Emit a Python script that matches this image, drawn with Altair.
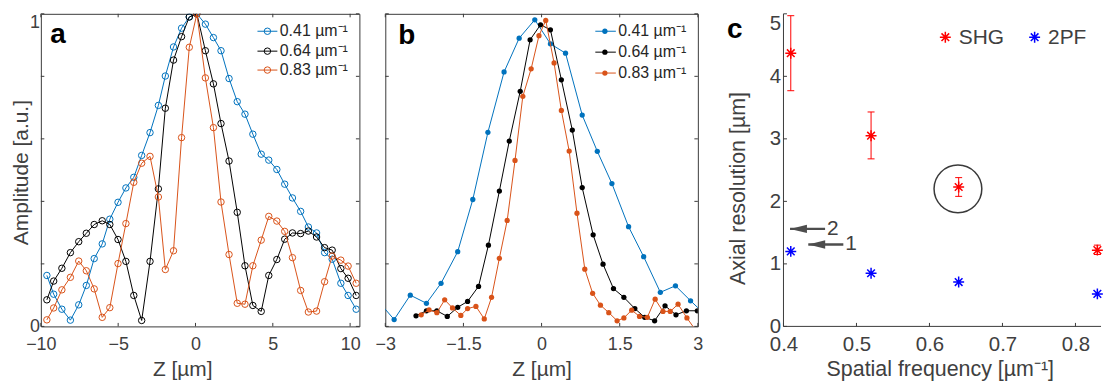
import altair as alt
import pandas as pd

FONT = "Liberation Sans"
TXT = "#404040"
FRAME = "#3a3a3a"
C041, C064, C083 = "#0072BD", "#000000", "#D95319"
RED, BLUE = "#FF0000", "#0000FF"
ARROWC = "#4d4d4d"

# ---------------- data: panel a (scanned amplitude) ----------------
z_a = [-9.61, -9.17, -8.64, -8.09, -7.55, -7.06, -6.55, -6.03, -5.54, -5.01,
       -4.50, -3.99, -3.48, -2.94, -2.40, -1.95, -1.42, -0.90, -0.40, 0.09,
       0.64, 1.16, 1.65, 2.17, 2.70, 3.20, 3.71, 4.25, 4.74, 5.26,
       5.77, 6.27, 6.80, 7.30, 7.83, 8.35, 8.84, 9.40, 9.87, 10.39]
amp_a_041 = [0.163, 0.103, 0.055, 0.020, 0.069, 0.131, 0.217, 0.264, 0.343, 0.397,
             0.443, 0.477, 0.547, 0.620, 0.707, 0.801, 0.894, 0.954, 0.990, 1.000,
             0.967, 0.924, 0.882, 0.793, 0.719, 0.679, 0.615, 0.551, 0.532, 0.502,
             0.455, 0.411, 0.368, 0.318, 0.299, 0.236, 0.215, 0.138, 0.099, 0.055]
amp_a_064 = [0.085, 0.145, 0.186, 0.236, 0.271, 0.298, 0.326, 0.338, 0.326, 0.278,
             0.208, 0.099, 0.019, 0.208, 0.440, 0.698, 0.852, 0.927, 0.990, 1.000,
             0.882, 0.776, 0.649, 0.529, 0.365, 0.194, 0.067, 0.048, 0.163, 0.214,
             0.279, 0.299, 0.297, 0.305, 0.286, 0.252, 0.244, 0.185, 0.154, 0.099]
amp_a_083 = [0.021, 0.059, 0.117, 0.157, 0.209, 0.178, 0.120, 0.029, 0.060, 0.201,
             0.329, 0.461, 0.522, 0.544, 0.414, 0.182, 0.242, 0.604, 0.893, 1.000,
             0.795, 0.636, 0.398, 0.230, 0.074, 0.071, 0.194, 0.276, 0.352, 0.337,
             0.304, 0.220, 0.115, 0.046, 0.049, 0.143, 0.225, 0.212, 0.193, 0.138]

# ---------------- data: panel b ----------------
z_b_041 = [-3.11, -2.83, -2.52, -2.21, -1.93, -1.61, -1.32, -1.03, -0.72, -0.43, -0.13,
           0.17, 0.46, 0.78, 1.07, 1.35, 1.67, 1.96, 2.28, 2.57, 2.86, 3.15]
amp_b_041 = [0.076, 0.022, 0.100, 0.074, 0.138, 0.239, 0.406, 0.621, 0.814, 0.922, 0.981,
             0.904, 0.874, 0.676, 0.560, 0.457, 0.319, 0.223, 0.109, 0.130, 0.082, 0.036]
z_b_064 = [-2.41, -2.21, -2.01, -1.81, -1.61, -1.42, -1.21, -1.02, -0.81, -0.62,
           -0.41, -0.22, -0.02, 0.17, 0.38, 0.59, 0.78, 0.99, 1.18, 1.38,
           1.58, 1.79, 1.98, 2.17, 2.37, 2.58, 2.78, 2.99]
amp_b_064 = [0.034, 0.050, 0.050, 0.032, 0.061, 0.080, 0.128, 0.260, 0.433, 0.593,
             0.752, 0.917, 0.965, 0.949, 0.789, 0.628, 0.444, 0.293, 0.199, 0.121,
             0.093, 0.057, 0.029, 0.018, 0.066, 0.037, 0.050, 0.050]
z_b_083 = [-2.31, -2.16, -2.01, -1.86, -1.71, -1.55, -1.42, -1.26, -1.10, -0.96,
           -0.81, -0.66, -0.51, -0.36, -0.20, -0.05, 0.08, 0.24, 0.38, 0.53,
           0.68, 0.83, 0.98, 1.13, 1.29, 1.45, 1.58, 1.73, 1.88, 2.03,
           2.18, 2.33, 2.47, 2.62, 2.79, 2.97]
amp_b_083 = [0.037, 0.053, 0.044, 0.085, 0.059, 0.035, 0.057, 0.064, 0.024, 0.093,
             0.218, 0.339, 0.531, 0.736, 0.824, 0.930, 0.979, 0.843, 0.691, 0.561,
             0.362, 0.183, 0.106, 0.068, 0.044, 0.018, 0.027, 0.052, 0.032, 0.029,
             0.087, 0.048, 0.048, 0.071, 0.027, -0.015]

# ---------------- data: panel c ----------------
freq = [0.41, 0.52, 0.64, 0.83]
res_shg = [4.37, 3.05, 2.23, 1.22]
res_shg_lo = [3.77, 2.68, 2.08, 1.15]
res_shg_hi = [4.97, 3.43, 2.38, 1.30]
res_2pf = [1.20, 0.85, 0.71, 0.52]
circled_f, circled_r = [0.639], [2.20]
arrow_y = [1.56, 1.31]
arrow_tip = [0.409, 0.434]
arrow_tail = [0.457, 0.482]
arrow_text = ["2", "1"]

series_labels = ["0.41 µm⁻¹", "0.64 µm⁻¹", "0.83 µm⁻¹"]
series_colors = [C041, C064, C083]

ticks_a_x = [-10, -5, 0, 5, 10]
ticks_ab_y = [0, 0.2, 0.4, 0.6, 0.8, 1.0]
ticks_b_x = [-3, -1.5, 0, 1.5, 3]
ticks_c_x = [0.4, 0.5, 0.6, 0.7, 0.8]
ticks_c_y = [0, 1, 2, 3, 4, 5]

WA, WB, WC, H = 320, 314, 319, 314
TL = 3.5
ASTER = "M-1,0L1,0M0,-1L0,1M-0.7,-0.7L0.7,0.7M-0.7,0.7L0.7,-0.7"
HEAD = "M0,0L2,-0.5L2,0.5Z"
LABEL_EXPR = "format(datum.value, '~r')"


def one(t=""):
    return alt.Chart(pd.DataFrame({"t": [t]}))


def tick_layers(xvals, yvals, xs, ys, ax_x, ax_y, W, sides):
    dx = pd.DataFrame({"v": xvals})
    dy = pd.DataFrame({"v": yvals})
    X = alt.X("v:Q", scale=xs, axis=ax_x)
    Y = alt.Y("v:Q", scale=ys, axis=ax_y)
    out = []
    rule = dict(color=FRAME, strokeWidth=1)
    if "bottom" in sides:
        out.append(alt.Chart(dx).mark_rule(**rule).encode(x=X, y=alt.value(H), y2=alt.value(H - TL)))
    if "top" in sides:
        out.append(alt.Chart(dx).mark_rule(**rule).encode(x=X, y=alt.value(0), y2=alt.value(TL)))
    if "left" in sides:
        out.append(alt.Chart(dy).mark_rule(**rule).encode(y=Y, x=alt.value(0), x2=alt.value(TL)))
    if "right" in sides:
        out.append(alt.Chart(dy).mark_rule(**rule).encode(y=Y, x=alt.value(W - TL), x2=alt.value(W)))
    return out


def series_layers(z, amp, color, filled, size, xs, ys, ax_x, ax_y):
    df = pd.DataFrame({"z": z, "amp": amp})
    base = alt.Chart(df).encode(
        x=alt.X("z:Q", scale=xs, axis=ax_x),
        y=alt.Y("amp:Q", scale=ys, axis=ax_y),
    )
    line = base.mark_line(color=color, strokeWidth=1, clip=True)
    pts = base.mark_point(shape="circle", size=size, filled=filled, color=color,
                          strokeWidth=1, opacity=1, clip=True)
    return [line, pts]


def legend_layers(x0, x1, xm, xt, ys, filled, size):
    out = []
    for lab, col, yy in zip(series_labels, series_colors, ys):
        c = one(lab)
        out.append(c.mark_rule(color=col, strokeWidth=1).encode(
            x=alt.value(x0), x2=alt.value(x1), y=alt.value(yy)))
        out.append(c.mark_point(shape="circle", size=size, filled=filled, color=col,
                                strokeWidth=1, opacity=1).encode(x=alt.value(xm), y=alt.value(yy)))
        out.append(c.mark_text(align="left", baseline="middle", font=FONT, fontSize=16,
                               color="#262626").encode(x=alt.value(xt), y=alt.value(yy), text="t:N"))
    return out


def panel_label(t, x, y):
    return one(t).mark_text(align="left", baseline="alphabetic", font=FONT, fontSize=28,
                            fontWeight="bold", color="#000000").encode(
        x=alt.value(x), y=alt.value(y), text="t:N")


def xaxis(values, title, tx, ty, lab_size, title_size, pad):
    return alt.Axis(values=values, labelExpr=LABEL_EXPR, ticks=False, tickSize=0, domain=False, grid=False,
                    labelFont=FONT, labelFontSize=lab_size, labelColor=TXT, labelBaseline="alphabetic",
                    labelPadding=pad, labelFlush=False, labelOverlap=False,
                    title=title, titleFont=FONT, titleFontSize=title_size, titleFontWeight="normal",
                    titleColor=TXT, titleX=tx, titleY=ty, titleBaseline="alphabetic", titleAlign="center")


def yaxis(values, top, title, tx, ty, lab_size, title_size, pad):
    return alt.Axis(values=values, labelExpr=LABEL_EXPR, ticks=False, tickSize=0, domain=False, grid=False,
                    labelFont=FONT, labelFontSize=lab_size, labelColor=TXT, labelPadding=pad,
                    labelFlush=False, labelOverlap=False,
                    labelBaseline={"condition": {"test": f"datum.value >= {top}", "value": "top"},
                                   "value": "middle"},
                    title=title, titleFont=FONT, titleFontSize=title_size, titleFontWeight="normal",
                    titleColor=TXT, titleX=tx, titleY=ty, titleAngle=270,
                    titleBaseline="alphabetic", titleAlign="center")


# ---------------- panel a ----------------
xs_a = alt.Scale(domain=[-10, 10.6], nice=False, zero=False)
ys_ab = alt.Scale(domain=[0, 1], nice=False, zero=False)
ax_a_x = xaxis(ticks_a_x, "Z [µm]", 142, 49, 18, 21, 23.5)
ax_a_y = yaxis([0, 1], 1, "Amplitude [a.u.]", -13.7, 159, 18, 21, 1.5)

layers_a = tick_layers(ticks_a_x, ticks_ab_y, xs_a, ys_ab, ax_a_x, ax_a_y, WA,
                       ("bottom", "top", "left", "right"))
for amp, col in zip([amp_a_041, amp_a_064, amp_a_083], series_colors):
    layers_a += series_layers(z_a, amp, col, False, 42, xs_a, ys_ab, ax_a_x, ax_a_y)
layers_a += legend_layers(217.6, 237.6, 227.6, 240, [17.5, 37.5, 56.5], False, 42)
layers_a.append(panel_label("a", 9.5, 29.5))
# invisible layout anchor: fixes the chart's top-left extent
layers_a.append(one().mark_point(filled=True, size=1, opacity=0).encode(
    x=alt.value(-32), y=alt.value(-4)))
panel_a = alt.layer(*layers_a).properties(width=WA, height=H,
                                          view=alt.ViewBackground(stroke=FRAME, strokeWidth=1))

# ---------------- panel b ----------------
xs_b = alt.Scale(domain=[-3, 3], nice=False, zero=False)
ax_b_x = xaxis(ticks_b_x, "Z [µm]", 157, 49, 18, 21, 23.5)
layers_b = tick_layers(ticks_b_x, ticks_ab_y, xs_b, ys_ab, ax_b_x, None, WB,
                       ("bottom", "top", "left", "right"))
for z, amp, col in zip([z_b_041, z_b_064, z_b_083], [amp_b_041, amp_b_064, amp_b_083], series_colors):
    layers_b += series_layers(z, amp, col, True, 28, xs_b, ys_ab, ax_b_x, None)
layers_b += legend_layers(211, 231.6, 220.6, 234, [17.5, 38.5, 59.5], True, 28)
layers_b.append(panel_label("b", 13, 30))
panel_b = alt.layer(*layers_b).properties(width=WB, height=H,
                                          view=alt.ViewBackground(stroke=FRAME, strokeWidth=1))

# ---------------- panel c ----------------
xs_c = alt.Scale(domain=[0.4, 0.4 + WC / 733.3], nice=False, zero=False)
ys_c = alt.Scale(domain=[0, 5], nice=False, zero=False)
ax_c_x = xaxis(ticks_c_x, "Spatial frequency [µm⁻¹]", 157, 49.5, 20.5, 21.5, 24)
ax_c_y = yaxis(ticks_c_y, 5, "Axial resolution [µm]", -38.7, 175, 20.5, 21.5, 3)
Xc = lambda f: alt.X(f, type="quantitative", scale=xs_c, axis=ax_c_x)
Yc = lambda f: alt.Y(f, type="quantitative", scale=ys_c, axis=ax_c_y)

df_c = pd.DataFrame({"freq": freq, "shg": res_shg, "lo": res_shg_lo, "hi": res_shg_hi, "tpf": res_2pf})
df_arrow = pd.DataFrame({"y": arrow_y, "tip": arrow_tip, "tail": arrow_tail, "t": arrow_text})
df_circ = pd.DataFrame({"f": circled_f, "r": circled_r})

layers_c = []
layers_c.append(one().mark_rule(color=FRAME, strokeWidth=1).encode(
    x=alt.value(0), y=alt.value(0), y2=alt.value(H)))
layers_c.append(one().mark_rule(color=FRAME, strokeWidth=1).encode(
    x=alt.value(0), x2=alt.value(WC), y=alt.value(H)))
layers_c += tick_layers(ticks_c_x, ticks_c_y, xs_c, ys_c, ax_c_x, ax_c_y, WC, ("bottom", "left"))
layers_c.append(alt.Chart(df_c).mark_rule(color=RED, strokeWidth=1).encode(
    x=Xc("freq"), y=Yc("lo"), y2="hi"))
for fld in ("lo", "hi"):
    layers_c.append(alt.Chart(df_c).mark_point(shape="M-1,0L1,0", size=49, filled=False, color=RED,
                                               strokeWidth=1, opacity=1).encode(x=Xc("freq"), y=Yc(fld)))
layers_c.append(alt.Chart(df_c).mark_point(shape=ASTER, size=121, filled=False, color=RED,
                                           strokeWidth=1.5, opacity=1).encode(x=Xc("freq"), y=Yc("shg")))
layers_c.append(alt.Chart(df_c).mark_point(shape=ASTER, size=121, filled=False, color=BLUE,
                                           strokeWidth=1.5, opacity=1).encode(x=Xc("freq"), y=Yc("tpf")))
layers_c.append(alt.Chart(df_circ).mark_point(shape="circle", size=48 * 48, filled=False, color=FRAME,
                                              strokeWidth=1.5, opacity=1).encode(x=Xc("f"), y=Yc("r")))
layers_c.append(alt.Chart(df_arrow).mark_rule(color=ARROWC, strokeWidth=2.5).encode(
    x=Xc("tip"), x2="tail", y=Yc("y")))
layers_c.append(alt.Chart(df_arrow).mark_point(shape=HEAD, size=289, filled=True, color=ARROWC,
                                               opacity=1).encode(x=Xc("tip"), y=Yc("y")))
layers_c.append(alt.Chart(df_arrow).mark_text(align="left", baseline="middle", dx=2, font=FONT,
                                              fontSize=21, color=TXT).encode(
    x=Xc("tail"), y=Yc("y"), text="t:N"))
# legend
for lab, col, xm in (("SHG", RED, 162.6), ("2PF", BLUE, 252.3)):
    layers_c.append(one(lab).mark_point(shape=ASTER, size=121, filled=False, color=col,
                                        strokeWidth=1.5, opacity=1).encode(x=alt.value(xm), y=alt.value(23.5)))
    layers_c.append(one(lab).mark_text(align="left", baseline="middle", font=FONT, fontSize=21,
                                       color=TXT).encode(x=alt.value(xm + 13.5), y=alt.value(24), text="t:N"))
layers_c.append(panel_label("c", -56.7, 24))
panel_c = alt.layer(*layers_c).properties(width=WC, height=H)

spacer = one().mark_point(opacity=0, size=1).encode(
    x=alt.value(10), y=alt.value(150)).properties(width=34, height=H)

chart = alt.hconcat(panel_a, panel_b, spacer, panel_c, spacing=26, bounds="flush").properties(
    padding={"left": 0, "top": 0, "right": 0, "bottom": 0}
).configure_view(stroke="transparent")

chart.save("out.html", embed_options={"renderer": "svg", "actions": False})
